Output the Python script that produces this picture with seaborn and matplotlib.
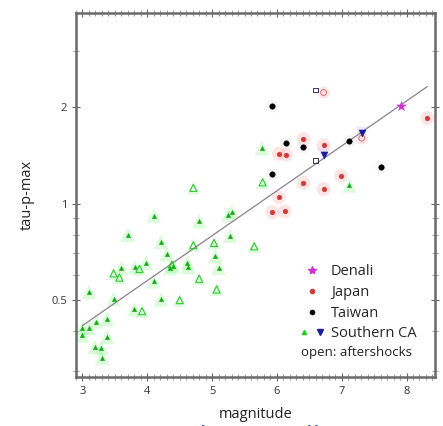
import numpy as np
import pandas as pd
import seaborn as sns
import matplotlib.pyplot as plt
from matplotlib.lines import Line2D
from matplotlib.legend_handler import HandlerTuple
from matplotlib.ticker import MultipleLocator, FixedLocator, NullFormatter

# Southern CA, mainshocks (filled) and aftershocks (open)
sca_mag = [5.77, 4.10, 4.80, 5.25, 5.30, 3.70, 4.21, 5.28, 4.30, 5.05, 3.98, 3.81,
           3.60, 4.35, 4.40, 4.62, 4.63, 5.10, 4.10, 4.21, 3.10, 3.80, 3.38, 3.21,
           3.10, 3.00, 3.00, 3.38, 3.19, 3.29, 3.30, 7.12, 3.48]
sca_tau = [1.49, 0.918, 0.881, 0.924, 0.944, 0.80, 0.76, 0.795, 0.697, 0.686, 0.654, 0.634,
           0.629, 0.63, 0.64, 0.655, 0.635, 0.631, 0.573, 0.503, 0.531, 0.468, 0.438, 0.429,
           0.41, 0.41, 0.388, 0.384, 0.358, 0.354, 0.331, 1.14, 0.505]
sca_open_mag = [5.78, 4.71, 4.71, 5.03, 5.65, 3.88, 3.48, 3.57, 4.80, 4.50, 5.07, 3.92, 4.38]
sca_open_tau = [1.165, 1.12, 0.742, 0.754, 0.736, 0.626, 0.606, 0.588, 0.583, 0.50, 0.54, 0.462, 0.645]

# Southern CA large events (blue)
sca_big_mag = [6.72, 7.31]
sca_big_tau = [1.42, 1.66]

japan_mag = [6.41, 6.03, 6.14, 6.72, 6.41, 6.99, 6.72, 6.03, 5.93, 6.12, 8.32]
japan_tau = [1.59, 1.43, 1.42, 1.52, 1.16, 1.22, 1.11, 1.046, 0.94, 0.946, 1.85]
japan_open_mag = [6.72, 7.31]
japan_open_tau = [2.22, 1.60]

taiwan_mag = [5.93, 6.14, 6.41, 5.93, 7.12, 7.61]
taiwan_tau = [2.01, 1.54, 1.50, 1.24, 1.57, 1.30]
taiwan_open_mag = [6.60, 6.60]
taiwan_open_tau = [2.26, 1.36]

denali_mag = [7.92]
denali_tau = [2.01]

# regression: log10(tau) = slope * M + intercept
fit_slope = 0.14
fit_intercept = -0.80
fit_mag = np.array([3.0, 8.32])

GREEN = "#1fcf1f"
HALO_GREEN = "#9af59a"
RED = "#d23a3a"
HALO_RED = "#f7b5b5"
BLUE = "#1c1c9a"
MAGENTA = "#d030d0"

sns.set_style("white")
plt.rcParams["font.family"] = ["Open Sans", "DejaVu Sans"]

fig = plt.figure(figsize=(4.43, 4.26), dpi=100)
ax = fig.add_axes([0.1716, 0.115, 0.8104, 0.8545])


def layer(x, y, marker, color, size, halo=None, halo_size=None, open_=False, lw=0.7):
    if halo is not None:
        sns.scatterplot(x=x, y=y, ax=ax, marker=marker, s=halo_size, color=halo,
                        alpha=0.35, edgecolor="none", linewidth=0, zorder=2)
    if open_:
        sns.scatterplot(x=x, y=y, ax=ax, marker=marker, s=size, facecolor="none",
                        edgecolor=color, linewidth=lw, zorder=4)
    else:
        sns.scatterplot(x=x, y=y, ax=ax, marker=marker, s=size, color=color,
                        edgecolor=color, linewidth=0.3, zorder=4)


layer(sca_mag, sca_tau, "^", "#17a817", 10, HALO_GREEN, 110)
layer(sca_open_mag, sca_open_tau, "^", "#22c022", 26, HALO_GREEN, 90, open_=True)
layer(japan_mag, japan_tau, "o", RED, 12, HALO_RED, 100)
layer(japan_open_mag, japan_open_tau, "o", "#d96a7a", 18, HALO_RED, 80, open_=True)
layer(taiwan_mag, taiwan_tau, "o", "black", 16, "#e6e6e6", 80)
layer(taiwan_open_mag, taiwan_open_tau, "s", "#333355", 12, None, None, open_=True)
layer(sca_big_mag, sca_big_tau, "v", BLUE, 26, "#c8c8f5", 90)
layer(denali_mag, denali_tau, "*", MAGENTA, 50, "#f5c0f5", 110)

fit_tau = 10 ** (fit_slope * fit_mag + fit_intercept)
sns.lineplot(x=fit_mag, y=fit_tau, ax=ax, color="#8c8090", linewidth=0.9, zorder=3)

ax.set_yscale("log")
ax.set_xlim(2.9, 8.44)
ax.set_ylim(0.288, 3.93)
ax.xaxis.set_major_locator(MultipleLocator(1))
ax.xaxis.set_minor_locator(MultipleLocator(0.1))
ax.yaxis.set_major_locator(FixedLocator([0.5, 1, 2]))
ax.yaxis.set_major_formatter(plt.FuncFormatter(lambda v, p: f"{v:g}"))
ax.yaxis.set_minor_locator(FixedLocator([0.3, 0.4, 0.6, 0.7, 0.8, 0.9, 3]))
ax.yaxis.set_minor_formatter(NullFormatter())

ax.tick_params(axis="both", which="major", direction="inout", length=6, width=0.8,
               color="#666666", labelsize=8, labelcolor="#333333", top=True, right=True,
               bottom=True, left=True)
ax.tick_params(axis="both", which="minor", direction="inout", length=4, width=0.6,
               color="#888888", top=True, right=True, bottom=True, left=True)
for sp in ax.spines.values():
    sp.set_color("#6a6a6a")
    sp.set_linewidth(1.8)

ax.set_xlabel("magnitude", fontsize=10.5, color="#222222", labelpad=7)
ax.set_ylabel("tau-p-max", fontsize=10.5, color="#222222", labelpad=12)

handles = [
    Line2D([], [], marker="*", color=MAGENTA, linestyle="none", markersize=6),
    Line2D([], [], marker="o", color=RED, linestyle="none", markersize=3),
    Line2D([], [], marker="o", color="black", linestyle="none", markersize=3),
    (Line2D([], [], marker="^", color=GREEN, linestyle="none", markersize=3),
     Line2D([], [], marker="v", color=BLUE, linestyle="none", markersize=4.5)),
]
labels = ["Denali", "Japan", "Taiwan", "Southern CA"]
leg = ax.legend(handles, labels, loc="lower right", bbox_to_anchor=(0.985, 0.062),
                frameon=False, fontsize=10.5, handlelength=1.6, handletextpad=0.5,
                labelspacing=0.39, handler_map={tuple: HandlerTuple(ndivide=None, pad=0.6)})
ax.text(0.935, 0.067, "open: aftershocks", transform=ax.transAxes, ha="right",
        va="center", fontsize=9.5, color="#222222")

fig.text(178 / 443, -0.046, "Olson & Allen 2005", fontsize=20, color="#2a5aa8",
         ha="left", va="baseline")

fig.savefig("out.png", dpi=100)
